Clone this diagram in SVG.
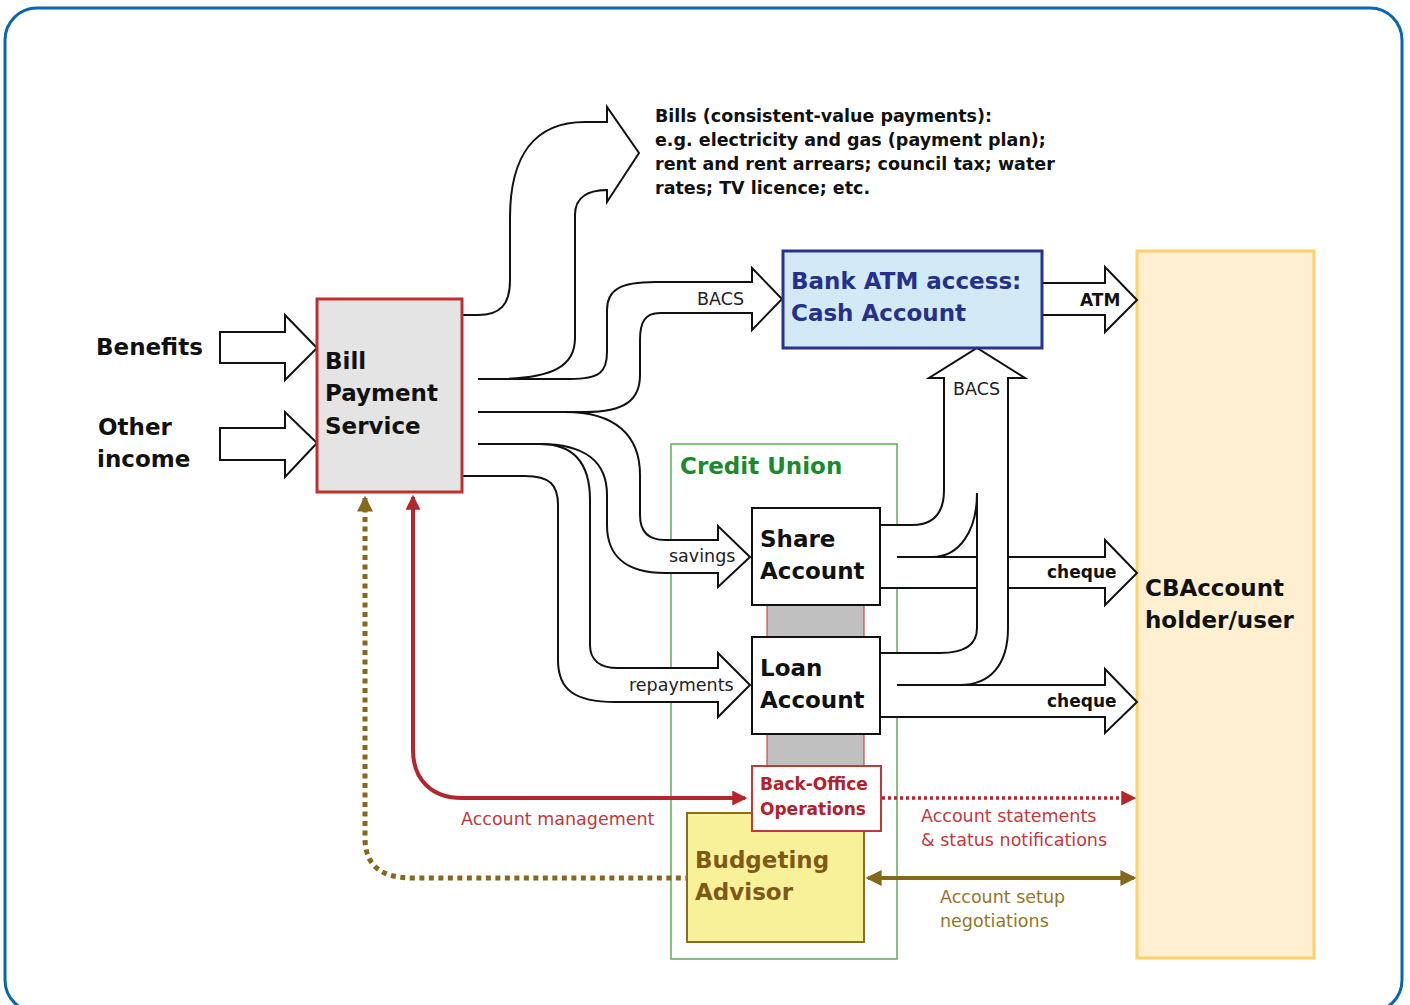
<svg xmlns="http://www.w3.org/2000/svg" width="1410" height="1005" viewBox="0 0 1410 1005">
<style>
.b{font-family:"DejaVu Sans","Liberation Sans",sans-serif;font-weight:bold}
.r{font-family:"DejaVu Sans","Liberation Sans",sans-serif}
.ln{fill:none;stroke:#111;stroke-width:2;stroke-linejoin:miter}
.wf{fill:#fff;stroke:none}
.hd{fill:#fff;stroke:#111;stroke-width:2}
</style>
<defs>
<marker id="mRed" viewBox="0 0 10 10" refX="8.5" refY="5" markerWidth="15" markerHeight="15" markerUnits="userSpaceOnUse" orient="auto-start-reverse"><path d="M0,0 L10,5 L0,10 Z" fill="#b3262c"/></marker>
<marker id="mBr" viewBox="0 0 10 10" refX="8.5" refY="5" markerWidth="16" markerHeight="16" markerUnits="userSpaceOnUse" orient="auto-start-reverse"><path d="M0,0 L10,5 L0,10 Z" fill="#86681c"/></marker>
</defs>
<rect x="5" y="8" width="1397" height="1004" rx="32" fill="#fff" stroke="#0b66b2" stroke-width="3"/>

<g id="credit-union">
<rect x="671" y="444" width="226" height="515" fill="none" stroke="#5aae5a" stroke-width="1.5"/>
<text class="b" x="680" y="474" font-size="23" fill="#1c8a2c">Credit Union</text>
</g>

<g id="cbaccount">
<rect x="1137" y="251" width="177" height="707" fill="#feefd0" stroke="#ffd166" stroke-width="3"/>
<text class="b" x="1145" y="596" font-size="23" fill="#111">CBAccount</text>
<text class="b" x="1145" y="628" font-size="23" fill="#111">holder/user</text>
</g>

<g id="connectors">
<!-- input arrows -->
<polygon class="hd" points="220,332 285,332 285,315 317,348 285,380 285,363 220,363"/>
<polygon class="hd" points="220,428 285,428 285,412 317,443 285,477 285,460 220,460"/>
<!-- bills arrow -->
<polygon class="wf" points="607,107 639,153 607,202"/>
<path class="ln" d="M462,315 H478 C500,315 510,305 510,280 V218 C510,155 535,122 585,122 H607 V107 L639,153 L607,202 V190 C590,190 575,196 575,215 V338 C575,365 555,379 495,379"/>
<!-- BACS to cash account -->
<polygon class="wf" points="752,268 782,299 752,330"/>
<path class="ln" d="M478,379 H570 C600,379 607,372 607,352 V310 C607,290 620,282 655,282 H752 V268 L782,299 L752,330 V313 H660 C645,313 640,322 640,340 V375 C640,400 625,412 585,412 H478"/>
<!-- savings -->
<rect class="wf" x="660" y="541" width="58" height="31"/>
<polygon class="wf" points="718,526 750,557 718,587"/>
<path class="ln" d="M565,412 C615,412 640,435 640,475 V515 C640,532 648,540 665,540 H718 V526 L750,557 L718,587 V573 H665 C625,573 607,555 607,525 V495 C607,462 585,444 540,444 H478"/>
<!-- repayments -->
<rect class="wf" x="660" y="669" width="58" height="32"/>
<polygon class="wf" points="718,653 750,685 718,717"/>
<path class="ln" d="M540,444 C575,444 590,465 590,500 V645 C590,660 600,668 618,668 H718 V653 L750,685 L718,717 V702 H615 C575,702 558,690 558,660 V505 C558,485 550,476 525,476 H462"/>
<!-- ATM -->
<path class="hd" d="M1042,283 H1105 V267 L1137,300 L1105,332 V315 H1042"/>
<!-- right side fills -->
<rect class="wf" x="880" y="525" width="100" height="63"/>
<rect class="wf" x="944" y="378" width="64" height="307"/>
<rect class="wf" x="880" y="653" width="128" height="64"/>
<rect class="wf" x="1008" y="557" width="97" height="31"/>
<rect class="wf" x="1008" y="685" width="97" height="32"/>
<polygon class="wf" points="929,378 977,348 1025,378"/>
<polygon class="wf" points="1105,540 1137,573 1105,605"/>
<polygon class="wf" points="1105,669 1137,702 1105,733"/>
<!-- BACS up -->
<path class="ln" d="M880,525 H912 C935,525 944,512 944,490 V378 H929 L977,348 L1025,378 H1008 V628 C1008,665 990,685 960,685"/>
<path class="ln" d="M897,557 H932 C960,557 977,530 977,493 V628 C977,645 965,653 940,653 H880"/>
<path class="ln" d="M897,557 H977 M880,588 H977"/>
<path class="ln" d="M1008,557 H1105 V540 L1137,573 L1105,605 V588 H1008"/>
<path class="ln" d="M897,685 H1105 V669 L1137,702 L1105,733 V717 H880"/>
<!-- management lines -->
<path d="M413,497 V750 C413,780 432,798 462,798 H745" fill="none" stroke="#b3262c" stroke-width="4" marker-start="url(#mRed)" marker-end="url(#mRed)"/>
<path d="M365,498 V838 C365,866 382,878 412,878 H687" fill="none" stroke="#86681c" stroke-width="5" stroke-dasharray="5 4.5" marker-start="url(#mBr)"/>
<path d="M882,798 H1134" fill="none" stroke="#b3262c" stroke-width="3.5" stroke-dasharray="3 3" marker-end="url(#mRed)"/>
<path d="M868,878 H1134" fill="none" stroke="#86681c" stroke-width="4" marker-start="url(#mBr)" marker-end="url(#mBr)"/>
<!-- labels -->
<text class="r" x="697" y="305" font-size="17.5" fill="#222">BACS</text>
<text class="r" x="953" y="395" font-size="17.5" fill="#222">BACS</text>
<text class="r" x="669" y="562" font-size="17.5" fill="#222">savings</text>
<text class="r" x="629" y="691" font-size="17.5" fill="#222">repayments</text>
<text class="b" x="1080" y="306" font-size="17" fill="#111">ATM</text>
<text class="b" x="1047" y="578" font-size="17" fill="#111">cheque</text>
<text class="b" x="1047" y="707" font-size="17" fill="#111">cheque</text>
<text class="r" x="461" y="825" font-size="17.5" fill="#c0393b">Account management</text>
<text class="r" x="921" y="822" font-size="17.5" fill="#c0393b">Account statements</text>
<text class="r" x="921" y="846" font-size="17.5" fill="#c0393b">&amp; status notifications</text>
<text class="r" x="940" y="903" font-size="17.5" fill="#947628">Account setup</text>
<text class="r" x="940" y="927" font-size="17.5" fill="#947628">negotiations</text>
</g>

<g id="benefits"><text class="b" x="96" y="355" font-size="23" fill="#111">Benefits</text></g>
<g id="other-income">
<text class="b" x="98" y="435" font-size="23" fill="#111">Other</text>
<text class="b" x="97" y="467" font-size="23" fill="#111">income</text>
</g>

<g id="bill-payment">
<rect x="317" y="299" width="145" height="193" fill="#e4e4e4" stroke="#c0302e" stroke-width="3"/>
<text class="b" x="325" y="369" font-size="23" fill="#111">Bill</text>
<text class="b" x="325" y="401" font-size="23" fill="#111">Payment</text>
<text class="b" x="325" y="434" font-size="23" fill="#111">Service</text>
</g>

<g id="bills">
<text class="b" x="655" y="122" font-size="17.5" fill="#111">Bills (consistent-value payments):</text>
<text class="b" x="655" y="146" font-size="17.5" fill="#111">e.g. electricity and gas (payment plan);</text>
<text class="b" x="655" y="170" font-size="17.5" fill="#111">rent and rent arrears; council tax; water</text>
<text class="b" x="655" y="194" font-size="17.5" fill="#111">rates; TV licence; etc.</text>
</g>

<g id="cash-account">
<rect x="783" y="251" width="259" height="97" fill="#d2eaf6" stroke="#2a3290" stroke-width="3"/>
<text class="b" x="791" y="289" font-size="23" fill="#262f8c">Bank ATM access:</text>
<text class="b" x="791" y="321" font-size="23" fill="#262f8c">Cash Account</text>
</g>

<g id="links">
<rect x="767" y="605" width="97" height="32" fill="#c0c0c0" stroke="#c0504d" stroke-width="1.2"/>
<rect x="767" y="734" width="97" height="32" fill="#c0c0c0" stroke="#c0504d" stroke-width="1.2"/>
</g>

<g id="share-account">
<rect x="752" y="508" width="128" height="97" fill="#fff" stroke="#111" stroke-width="2"/>
<text class="b" x="760" y="547" font-size="23" fill="#111">Share</text>
<text class="b" x="760" y="579" font-size="23" fill="#111">Account</text>
</g>

<g id="loan-account">
<rect x="752" y="637" width="128" height="97" fill="#fff" stroke="#111" stroke-width="2"/>
<text class="b" x="760" y="676" font-size="23" fill="#111">Loan</text>
<text class="b" x="760" y="708" font-size="23" fill="#111">Account</text>
</g>

<g id="budgeting-advisor">
<rect x="687" y="813" width="177" height="129" fill="#f9f09a" stroke="#8a6d1f" stroke-width="2"/>
<text class="b" x="695" y="868" font-size="23" fill="#7d5b17">Budgeting</text>
<text class="b" x="695" y="900" font-size="23" fill="#7d5b17">Advisor</text>
</g>

<g id="back-office">
<rect x="752" y="766" width="129" height="65" fill="#fff" stroke="#c0393b" stroke-width="2"/>
<text class="b" x="760" y="790" font-size="17" fill="#b0222a">Back-Office</text>
<text class="b" x="760" y="815" font-size="17" fill="#b0222a">Operations</text>
</g>
</svg>
